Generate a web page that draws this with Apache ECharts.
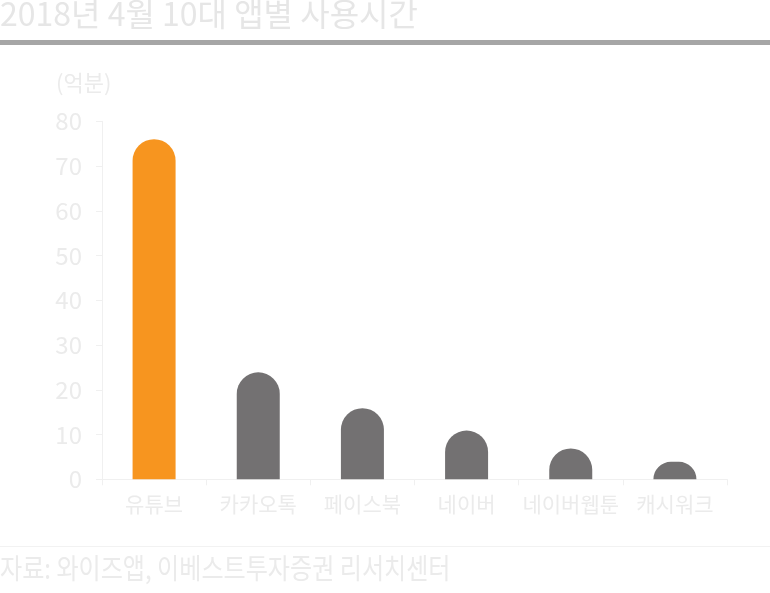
<!DOCTYPE html>
<html><head><meta charset="utf-8">
<script src="https://cdn.jsdelivr.net/npm/echarts@6/dist/echarts.min.js"></script>
<style>html,body{margin:0;padding:0;background:#fff}#c{width:770px;height:593px}</style>
</head><body><div id="c"></div>
<script>
const titleText = '2018년 4월 10대 앱별 사용시간';
const unitText = '(억분)';
const sourceText = '자료: 와이즈앱, 이베스트투자증권 리서치센터';
const categories = ['유튜브', '카카오톡', '페이스북', '네이버', '네이버웹툰', '캐시워크'];
const values = [76, 23.9, 15.9, 10.9, 6.9, 3.9];
const highlightIndex = 0;
const FONT = '"Noto Sans CJK KR", "Noto Sans", sans-serif';
const chart = echarts.init(document.getElementById('c'), null, {renderer: 'canvas'});
chart.setOption({
  animation: false,
  backgroundColor: '#ffffff',
  grid: {left: 102, right: 43, top: 121.3, bottom: 113.7, containLabel: false},
  xAxis: {
    type: 'category', data: categories,
    axisLine: {lineStyle: {color: '#f0f0f0', width: 1}},
    axisTick: {show: true, length: 6, lineStyle: {color: '#f0f0f0'}},
    axisLabel: {color: '#ebebeb', fontSize: 21, fontFamily: FONT, margin: 14, interval: 0, hideOverlap: false}
  },
  yAxis: {
    type: 'value', min: 0, max: 80, interval: 10,
    splitLine: {show: false},
    axisLine: {show: true, lineStyle: {color: '#f0f0f0', width: 1}},
    axisTick: {show: true, length: 6, lineStyle: {color: '#f0f0f0'}},
    axisLabel: {color: '#ebebeb', fontSize: 24, fontFamily: FONT, margin: 20}
  },
  series: [{
    type: 'bar', barWidth: 43,
    data: values.map((v, i) => ({value: v, itemStyle: {color: i === highlightIndex ? '#F7951F' : '#737172'}})),
    itemStyle: {borderRadius: [21.5, 21.5, 0, 0]}
  }],
  graphic: [
    {type: 'text', left: 0, top: -2, scaleX: 1.0, style: {text: titleText, fill: '#e6e6e6', font: '32px ' + FONT}},
    {type: 'rect', shape: {x: 0, y: 40, width: 770, height: 5}, style: {fill: '#a6a6a6'}},
    {type: 'text', left: 56, top: 72, style: {text: unitText, fill: '#ebebeb', font: '22px ' + FONT}},
    {type: 'rect', shape: {x: 0, y: 546, width: 770, height: 1}, style: {fill: '#f2f2f2'}},
    {type: 'text', left: 0, top: 554, scaleX: 0.86, style: {text: sourceText, fill: '#ebebeb', font: '28px ' + FONT}}
  ]
});
</script></body></html>
